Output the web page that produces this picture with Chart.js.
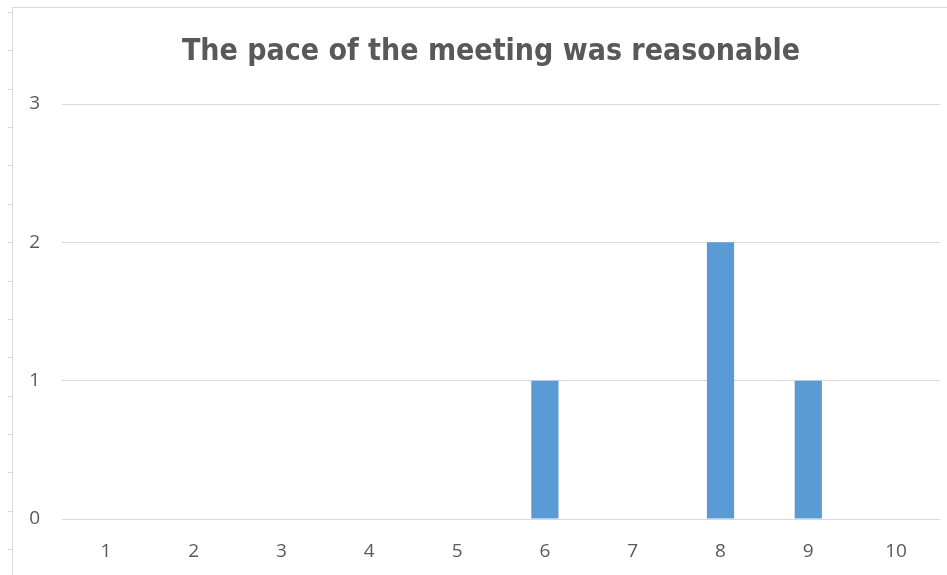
<!DOCTYPE html>
<html>
<head>
<meta charset="utf-8">
<script src="https://cdn.jsdelivr.net/npm/chart.js@4/dist/chart.umd.min.js"></script>
<style>
  html, body { margin: 0; padding: 0; background: #fff; }
  #wrap { position: relative; width: 947px; height: 575px; overflow: hidden; }
  #c { position: absolute; left: 0; top: 0; }
  #bl { position: absolute; left: 12px; top: 7px; width: 1px; height: 568px; background: #D9D9D9; }
  #bt { position: absolute; left: 12px; top: 7px; width: 935px; height: 1px; background: #D9D9D9; }
  #rt { position: absolute; left: 8px; top: 12px; width: 4px; height: 563px;
        background: repeating-linear-gradient(to bottom, #D9D9D9 0px, #D9D9D9 1px, transparent 1px, transparent 38.36px); }
</style>
</head>
<body>
<div id="wrap">
  <canvas id="c" width="947" height="575"></canvas>
  <div id="bl"></div>
  <div id="bt"></div>
  <div id="rt"></div>
</div>
<script>
const chartTitle = "The pace of the meeting was reasonable";
const categories = ["1", "2", "3", "4", "5", "6", "7", "8", "9", "10"];
const counts = [0, 0, 0, 0, 0, 1, 0, 2, 1, 0];
const yTicks = [0, 1, 2, 3];

const titleShift = {
  id: 'titleShift',
  afterLayout(chart) {
    if (chart.titleBlock) chart.titleBlock.left += 22;
  }
};

new Chart(document.getElementById('c'), {
  type: 'bar',
  data: {
    labels: categories,
    datasets: [{
      data: counts,
      backgroundColor: '#5B9BD5',
      borderWidth: 0,
      categoryPercentage: 1,
      barPercentage: 0.31
    }]
  },
  plugins: [titleShift],
  options: {
    responsive: false,
    animation: false,
    devicePixelRatio: 1,
    layout: { padding: { left: 20, right: 7, top: 0, bottom: 0 } },
    plugins: {
      legend: { display: false },
      tooltip: { enabled: false },
      title: {
        display: true,
        text: chartTitle,
        color: '#595959',
        font: { family: "'Liberation Sans Narrow', 'DejaVu Sans Condensed', sans-serif", size: 30, weight: 'bold', lineHeight: 1.2 },
        padding: { top: 34, bottom: 34 }
      }
    },
    scales: {
      x: {
        grid: { display: false },
        border: { display: false },
        ticks: { color: '#595959', font: { family: "'Open Sans', sans-serif", size: 19 }, padding: 13, maxRotation: 0 },
        afterFit(s) { s.height = 56; }
      },
      y: {
        min: yTicks[0],
        max: yTicks[yTicks.length - 1],
        grid: { color: '#D9D9D9', drawTicks: false, lineWidth: 1 },
        border: { display: false },
        ticks: { stepSize: 1, color: '#595959', font: { family: "'Open Sans', sans-serif", size: 19 }, padding: 22 },
        afterFit(s) { s.width = 42; }
      }
    }
  }
});
</script>
</body>
</html>
